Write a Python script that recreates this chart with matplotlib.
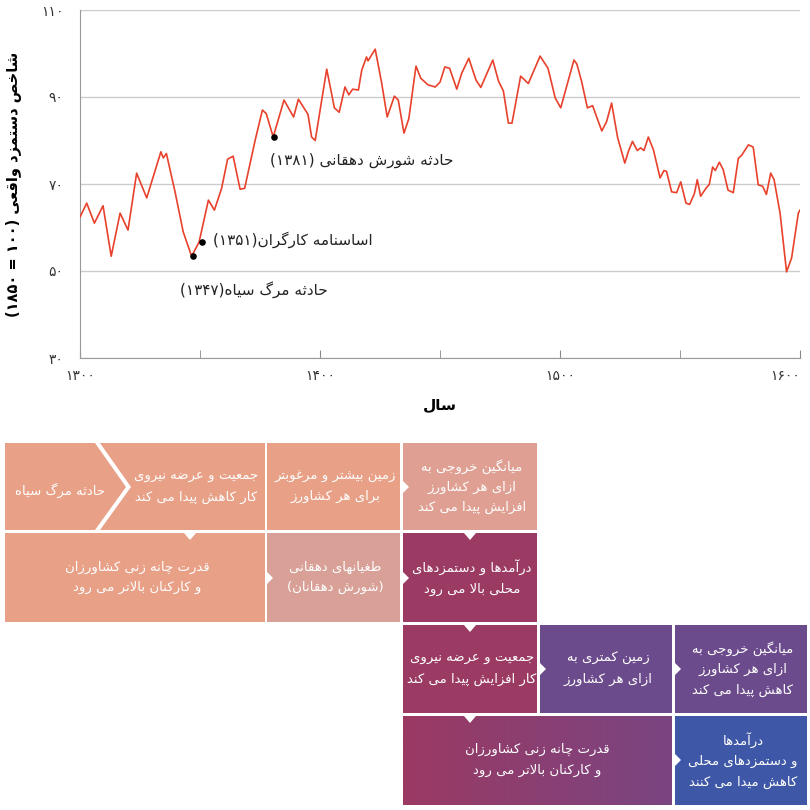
import matplotlib
matplotlib.use("Agg")
import matplotlib.pyplot as plt
import numpy as np
from matplotlib.patches import Polygon

# ---- data ----
years = [1300, 1302.8, 1306, 1309.6, 1313, 1316.7, 1320, 1323.6, 1327.8, 1333.7, 1334.7, 1336,
         1339.6, 1343, 1346.5, 1349.6, 1353.5, 1356, 1359, 1361.5, 1363.8, 1366.7, 1368.6, 1373,
         1376, 1377.6, 1380.5, 1385, 1389, 1391, 1395, 1396.5, 1398, 1402.8, 1406, 1408, 1410.4,
         1412, 1413.6, 1416, 1417.4, 1419.4, 1420, 1423, 1425.7, 1428, 1431, 1432.6, 1435, 1437,
         1440, 1442, 1445, 1448, 1450, 1452, 1454, 1457, 1459, 1462, 1465, 1467, 1472, 1474.4,
         1476.4, 1478.5, 1480, 1483.6, 1486.8, 1491.7, 1495, 1498, 1500.3, 1505.8, 1507, 1509,
         1511.4, 1513.6, 1517.4, 1519.4, 1521.5, 1524, 1527, 1528.5, 1530.2, 1532.2, 1533.6, 1535,
         1536.8, 1538.9, 1541.7, 1543.3, 1544.4, 1546.5, 1548.6, 1550.3, 1552.5, 1554, 1556,
         1557.2, 1558.6, 1560.8, 1562.2, 1563.6, 1564.7, 1566.4, 1568, 1570, 1572.2, 1574.3,
         1575.7, 1578.5, 1580.5, 1582.6, 1584.4, 1586, 1587.8, 1589.2, 1591.7, 1594.4, 1596.5,
         1599.3, 1600]
wages = [62.4, 65.6, 61, 65, 53.4, 63.3, 59.4, 72.5, 66.8, 77.4, 76, 77, 68.2, 59, 53.4, 56.6,
         66.3, 64, 69, 75.7, 76.4, 68.8, 69, 80.1, 87, 86.2, 80.8, 89.3, 85.4, 89.5, 86, 80.8, 80,
         96.4, 87.5, 86.5, 92.3, 90.5, 91.8, 91.6, 96.2, 99.2, 98.3, 101, 93.2, 85.4, 90.2, 89.3,
         81.7, 85, 97.1, 94.3, 92.8, 92.3, 93.4, 96.9, 96.6, 91.8, 95.4, 98.9, 93.9, 92.2, 98.5,
         93.6, 91.4, 84, 84, 94.8, 93.1, 99.4, 96.6, 89.8, 87.5, 98.5, 97.6, 93.6, 87.5, 88, 82.2,
         84.3, 88.6, 80.7, 74.8, 77.5, 79.8, 77.7, 78.3, 77.7, 80.8, 77.9, 71.4, 73.1, 72.9, 68.2,
         68, 70.5, 65.6, 65.3, 67.8, 71, 67.2, 69, 69.9, 73.9, 73.1, 75, 73.3, 68.6, 68, 75.9, 76.6,
         79, 78.5, 69.8, 69.5, 67.6, 72.5, 71, 63.3, 49.8, 53, 63.3, 64]

event_years = [1347, 1351, 1381]
event_values = [53.4, 56.6, 80.8]
event_labels = ["حادثه مرگ سیاه(۱۳۴۷)", "اساسنامه کارگران(۱۳۵۱)", "حادثه شورش دهقانی (۱۳۸۱)"]
event_text_pos = [(1341.5, 45.7), (1355.5, 57.1), (1379, 75.5)]

y_ticks = [30, 50, 70, 90, 110]
y_tick_labels = ["۳۰", "۵۰", "۷۰", "۹۰", "۱۱۰"]
x_ticks = [1300, 1400, 1500, 1600]
x_tick_labels = ["۱۳۰۰", "۱۴۰۰", "۱۵۰۰", "۱۶۰۰"]

# ---- minimal Persian shaping (no arabic_reshaper available) ----
FORMS = {
    "ا": (0xFE8D, 0xFE8E, None, None), "آ": (0xFE81, 0xFE82, None, None),
    "ب": (0xFE8F, 0xFE90, 0xFE91, 0xFE92), "پ": (0xFB56, 0xFB57, 0xFB58, 0xFB59),
    "ت": (0xFE95, 0xFE96, 0xFE97, 0xFE98), "ث": (0xFE99, 0xFE9A, 0xFE9B, 0xFE9C),
    "ج": (0xFE9D, 0xFE9E, 0xFE9F, 0xFEA0), "چ": (0xFB7A, 0xFB7B, 0xFB7C, 0xFB7D),
    "ح": (0xFEA1, 0xFEA2, 0xFEA3, 0xFEA4), "خ": (0xFEA5, 0xFEA6, 0xFEA7, 0xFEA8),
    "د": (0xFEA9, 0xFEAA, None, None), "ذ": (0xFEAB, 0xFEAC, None, None),
    "ر": (0xFEAD, 0xFEAE, None, None), "ز": (0xFEAF, 0xFEB0, None, None),
    "ژ": (0xFB8A, 0xFB8B, None, None),
    "س": (0xFEB1, 0xFEB2, 0xFEB3, 0xFEB4), "ش": (0xFEB5, 0xFEB6, 0xFEB7, 0xFEB8),
    "ص": (0xFEB9, 0xFEBA, 0xFEBB, 0xFEBC), "ض": (0xFEBD, 0xFEBE, 0xFEBF, 0xFEC0),
    "ط": (0xFEC1, 0xFEC2, 0xFEC3, 0xFEC4), "ظ": (0xFEC5, 0xFEC6, 0xFEC7, 0xFEC8),
    "ع": (0xFEC9, 0xFECA, 0xFECB, 0xFECC), "غ": (0xFECD, 0xFECE, 0xFECF, 0xFED0),
    "ف": (0xFED1, 0xFED2, 0xFED3, 0xFED4), "ق": (0xFED5, 0xFED6, 0xFED7, 0xFED8),
    "ک": (0xFB8E, 0xFB8F, 0xFB90, 0xFB91), "گ": (0xFB92, 0xFB93, 0xFB94, 0xFB95),
    "ل": (0xFEDD, 0xFEDE, 0xFEDF, 0xFEE0), "م": (0xFEE1, 0xFEE2, 0xFEE3, 0xFEE4),
    "ن": (0xFEE5, 0xFEE6, 0xFEE7, 0xFEE8), "و": (0xFEED, 0xFEEE, None, None),
    "ه": (0xFEE9, 0xFEEA, 0xFEEB, 0xFEEC), "ی": (0xFBFC, 0xFBFD, 0xFBFE, 0xFBFF),
}


def shape(s):
    s = s.replace("لا", "\uE000")  # lam-alef placeholder
    out = []
    n = len(s)
    for i, c in enumerate(s):
        prev = s[i - 1] if i > 0 else ""
        nxt = s[i + 1] if i < n - 1 else ""
        joins_prev = prev in FORMS and FORMS[prev][2] is not None
        if c == "\uE000":
            out.append(chr(0xFEFC) if joins_prev else chr(0xFEFB))
            continue
        if c not in FORMS:
            out.append(c)
            continue
        f = FORMS[c]
        joins_next = f[2] is not None and (nxt in FORMS or nxt == "\uE000")
        if joins_prev and joins_next:
            out.append(chr(f[3]))
        elif joins_prev:
            out.append(chr(f[1]))
        elif joins_next:
            out.append(chr(f[2]))
        else:
            out.append(chr(f[0]))
    # visual order: reverse, keep digit runs LTR, mirror brackets
    vis = []
    for c in reversed(out):
        vis.append({"(": ")", ")": "("}.get(c, c))
    res, run = [], []
    for c in vis:
        if c.isdigit():
            run.append(c)
        else:
            res.extend(reversed(run))
            run = []
            res.append(c)
    res.extend(reversed(run))
    return "".join(res)


def rtl(text):
    return "\n".join(shape(line) for line in text.split("\n"))


FONT = "DejaVu Sans"

fig = plt.figure(figsize=(8.1, 8.1), dpi=100)

# ---- line chart ----
ax = fig.add_axes([80 / 810, 1 - 358 / 810, 720 / 810, 348 / 810])
ax.plot(years, wages, color="#e8412c", lw=1.2, zorder=3)
ax.scatter(event_years, event_values, color="black", s=14, zorder=4)
for (tx, ty), lab in zip(event_text_pos, event_labels):
    ax.text(tx, ty, rtl(lab), fontsize=11, family=FONT, color="#222222", va="center", ha="left")
ax.set_xlim(1300, 1600)
ax.set_ylim(30, 110)
ax.set_yticks(y_ticks)
ax.set_yticklabels(y_tick_labels, family=FONT, fontsize=10, color="#333333")
ax.set_xticks(x_ticks)
ax.set_xticklabels(x_tick_labels, family=FONT, fontsize=10, color="#333333")
ax.get_xticklabels()[-1].set_horizontalalignment("right")
ax.set_xticks([1350, 1450, 1550], minor=True)
ax.tick_params(axis="y", length=0, pad=12)
ax.tick_params(axis="x", which="both", length=6, color="#888888", direction="in", pad=8)
ax.grid(axis="y", color="#cccccc", lw=1)
ax.set_axisbelow(True)
for sp in ["top", "right"]:
    ax.spines[sp].set_visible(False)
ax.spines["left"].set_color("#999999")
ax.spines["bottom"].set_color("#999999")
ax.set_xlabel(rtl("سال"), family=FONT, fontsize=11, fontweight="bold", labelpad=10)
ax.set_ylabel(rtl("شاخص دستمزد واقعی (۱۰۰ = ۱۸۵۰)"), family=FONT, fontsize=10.5,
              fontweight="bold", labelpad=14)

# ---- flow diagram (pixel coordinates) ----
dx = fig.add_axes([0, 0, 1, 1], zorder=-1)
dx.set_xlim(0, 810)
dx.set_ylim(810, 0)
dx.axis("off")

SALMON = "#e8a087"
PINK = "#d9a098"
MAGENTA = "#9b3a63"
PURPLE = "#6c4b8c"
BLUE = "#3e57a6"
FS = 9.5

boxes = [
    # x0, x1, y0, y1, color, text
    (267, 400, 443, 530, SALMON, "زمین بیشتر و مرغوبتر\nبرای هر کشاورز"),
    (403, 537, 443, 530, "#dfa093", "میانگین خروجی به\nازای هر کشاورز\nافزایش پیدا می کند"),
    (5, 265, 533, 622, SALMON, "قدرت چانه زنی کشاورزان\nو کارکنان بالاتر می رود"),
    (267, 400, 533, 622, PINK, "طغیانهای دهقانی\n(شورش دهقانان)"),
    (403, 537, 533, 622, MAGENTA, "درآمدها و دستمزدهای\nمحلی بالا می رود"),
    (403, 537, 625, 713, MAGENTA, "جمعیت و عرضه نیروی\nکار افزایش پیدا می کند"),
    (540, 672, 625, 713, PURPLE, "زمین کمتری به\nازای هر کشاورز"),
    (675, 807, 625, 713, PURPLE, "میانگین خروجی به\nازای هر کشاورز\nکاهش پیدا می کند"),
    (675, 807, 716, 805, BLUE, "درآمدها\nو دستمزدهای محلی\nکاهش میدا می کنند"),
]
for x0, x1, y0, y1, col, txt in boxes:
    dx.add_patch(Polygon([(x0, y0), (x1, y0), (x1, y1), (x0, y1)], color=col, lw=0))
    dx.text((x0 + x1) / 2 + 2, (y0 + y1) / 2, rtl(txt), color="white", fontsize=FS, family=FONT,
            ha="center", va="center", linespacing=1.7)

# gradient box in the last row
grad = np.linspace(0, 1, 200)[None, :]
cmap = matplotlib.colors.LinearSegmentedColormap.from_list("g", [MAGENTA, "#7a4582"])
dx.imshow(grad, cmap=cmap, extent=(403, 672, 805, 716), aspect="auto", zorder=1)
dx.text(537, 760, rtl("قدرت چانه زنی کشاورزان\nو کارکنان بالاتر می رود"), color="white",
        fontsize=FS, family=FONT, ha="center", va="center", linespacing=1.7, zorder=2)

# chevrons in first row
dx.add_patch(Polygon([(5, 443), (95, 443), (126, 487), (95, 530), (5, 530)], color=SALMON, lw=0))
dx.text(60, 490, rtl("حادثه مرگ سیاه"), color="white", fontsize=FS, family=FONT,
        ha="center", va="center")
dx.add_patch(Polygon([(100, 443), (265, 443), (265, 530), (100, 530), (131, 487)],
                     color=SALMON, lw=0))
dx.text(196, 487, rtl("جمعیت و عرضه نیروی\nکار کاهش پیدا می کند"), color="white", fontsize=FS,
        family=FONT, ha="center", va="center", linespacing=1.7)

# small white notch arrows
for x, y in [(403, 487), (267, 578), (403, 578), (540, 669), (675, 669), (675, 760)]:
    dx.add_patch(Polygon([(x, y - 6), (x + 6, y), (x, y + 6)], color="white", lw=0, zorder=3))
for x, y in [(190, 533), (470, 533), (470, 625), (470, 716)]:
    dx.add_patch(Polygon([(x - 6, y), (x + 6, y), (x, y + 7)], color="white", lw=0, zorder=3))

fig.savefig("out.png", dpi=100)
